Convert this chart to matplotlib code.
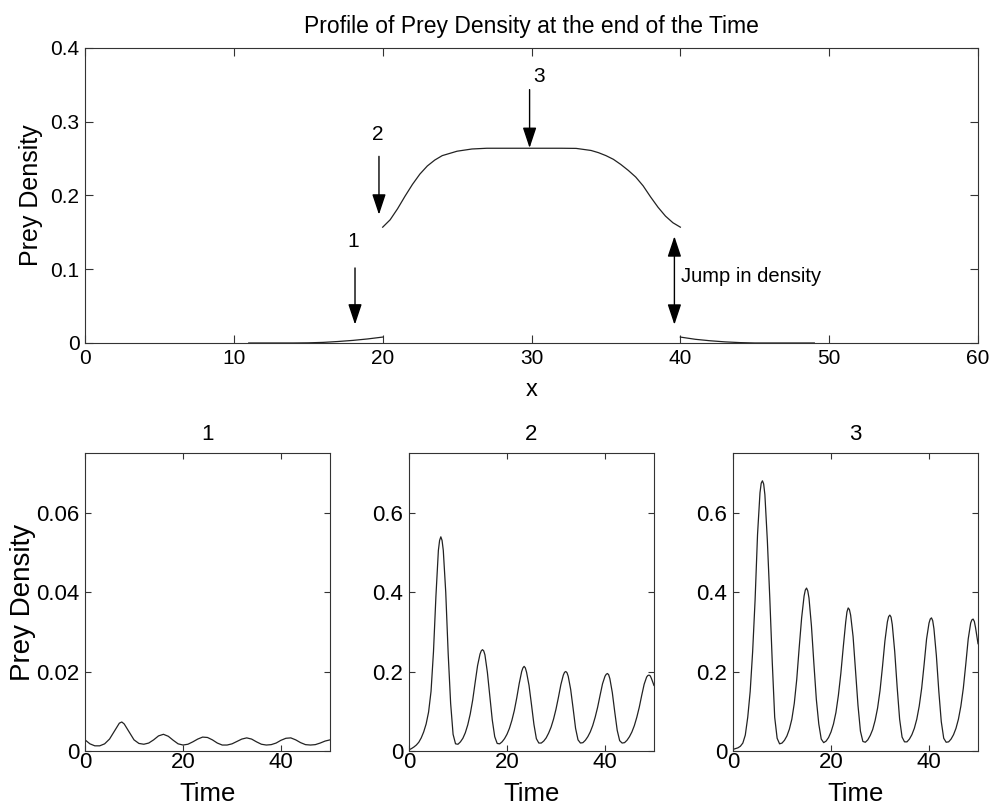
import numpy as np
import matplotlib
matplotlib.use("Agg")
import matplotlib.pyplot as plt

plt.rcParams["font.family"] = ["Liberation Sans", "DejaVu Sans"]

nan = float("nan")

# profile of prey density along x (end of simulation); nan = break at the jumps
x_prof = [11, 12, 13, 14, 15, 16, 17, 18, 19, 20, nan,
          20, 20.5, 21, 21.5, 22, 22.5, 23, 23.5, 24, 25, 26, 27, 28, 29, 30,
          31, 32, 33, 34, 34.5, 35, 35.5, 36, 36.5, 37, 37.5, 38, 38.5, 39, 39.5, 40, nan,
          40, 41, 42, 43, 44, 45, 46, 47, 48, 49]
y_prof = [0.0, 0.0, 0.0, 0.0, 0.0002, 0.0008, 0.002, 0.0035, 0.0055, 0.008, nan,
          0.157, 0.167, 0.182, 0.199, 0.215, 0.229, 0.240, 0.248, 0.254, 0.260, 0.263, 0.264, 0.264, 0.264, 0.264,
          0.264, 0.264, 0.2638, 0.261, 0.258, 0.254, 0.249, 0.242, 0.234, 0.225, 0.213, 0.198, 0.184, 0.172, 0.163, 0.157, nan,
          0.008, 0.005, 0.003, 0.0015, 0.0005, 0.0, 0.0, 0.0, 0.0, 0.0]

# time series at point 1
t1 = [0, 1, 2, 3, 4, 5, 6, 7, 7.5, 8, 9, 10, 11, 12, 13, 14, 15, 16, 17, 18, 19, 20,
      21, 22, 23, 24, 25, 26, 27, 28, 29, 30, 31, 32, 33, 34, 35, 36, 37, 38, 39, 40,
      41, 42, 43, 44, 45, 46, 47, 48, 49, 50]
p1 = [0.0028, 0.0018, 0.0013, 0.0013, 0.0018, 0.0030, 0.0050, 0.0070, 0.0073, 0.0068,
      0.0048, 0.0028, 0.0019, 0.0017, 0.0020, 0.0028, 0.0038, 0.0042, 0.0037, 0.0027,
      0.0018, 0.0015, 0.0017, 0.0023, 0.0030, 0.0035, 0.0034, 0.0028, 0.0020, 0.0015,
      0.0015, 0.0018, 0.0024, 0.0030, 0.0033, 0.0030, 0.0023, 0.0017, 0.0015, 0.0016,
      0.0020, 0.0027, 0.0032, 0.0033, 0.0028, 0.0021, 0.0016, 0.0015, 0.0016, 0.0020,
      0.0025, 0.0028]

# time series at point 2
t2 = [0, 0.5, 1, 1.5, 2, 2.5, 3, 3.5, 4, 4.5, 5, 5.5, 6, 6.25, 6.5, 6.75, 7, 7.5, 8, 8.5,
      9, 9.5, 10, 10.5, 11, 11.5, 12, 12.5, 13, 13.5, 14, 14.5, 14.75, 15, 15.25, 15.5,
      16, 16.5, 17, 17.5, 18, 18.5, 19, 19.5, 20, 20.5, 21, 21.5, 22, 22.5, 23, 23.25,
      23.5, 23.75, 24, 24.5, 25, 25.5, 26, 26.5, 27, 27.5, 28, 28.5, 29, 29.5, 30, 30.5,
      31, 31.5, 31.75, 32, 32.25, 32.5, 33, 33.5, 34, 34.5, 35, 35.5, 36, 36.5, 37, 37.5,
      38, 38.5, 39, 39.5, 40, 40.25, 40.5, 40.75, 41, 41.5, 42, 42.5, 43, 43.5, 44, 44.5,
      45, 45.5, 46, 46.5, 47, 47.5, 48, 48.5, 48.75, 49, 49.25, 49.5, 50]
p2 = [0.003, 0.006, 0.010, 0.015, 0.022, 0.033, 0.048, 0.068, 0.098, 0.150, 0.250, 0.390,
      0.505, 0.530, 0.539, 0.530, 0.505, 0.400, 0.245, 0.120,
      0.042, 0.018, 0.017, 0.023, 0.032, 0.046, 0.066, 0.093, 0.128, 0.172, 0.215, 0.244,
      0.252, 0.255, 0.252, 0.242,
      0.198, 0.138, 0.078, 0.036, 0.019, 0.018, 0.023, 0.031, 0.042, 0.057, 0.077, 0.102,
      0.134, 0.170, 0.200, 0.209,
      0.213, 0.209, 0.198, 0.165, 0.117, 0.067, 0.031, 0.020, 0.020, 0.025, 0.033, 0.045,
      0.060, 0.080, 0.105, 0.135,
      0.167, 0.191, 0.198, 0.200, 0.197, 0.188, 0.155, 0.107, 0.057, 0.028, 0.020, 0.021,
      0.027, 0.036, 0.048, 0.064,
      0.085, 0.110, 0.140, 0.169, 0.188, 0.193, 0.195, 0.192, 0.182, 0.147, 0.098, 0.052,
      0.026, 0.020, 0.021, 0.027,
      0.036, 0.048, 0.064, 0.085, 0.110, 0.140, 0.168, 0.186, 0.190, 0.191, 0.189, 0.182,
      0.165]

# time series at point 3
t3 = [0, 0.5, 1, 1.5, 2, 2.5, 3, 3.5, 4, 4.5, 5, 5.5, 5.75, 6, 6.25, 6.5, 7, 7.5, 8, 8.5,
      9, 9.5, 10, 10.5, 11, 11.5, 12, 12.5, 13, 13.5, 14, 14.5, 14.75, 15, 15.25, 15.5,
      16, 16.5, 17, 17.5, 18, 18.5, 19, 19.5, 20, 20.5, 21, 21.5, 22, 22.5, 23, 23.25,
      23.5, 23.75, 24, 24.5, 25, 25.5, 26, 26.5, 27, 27.5, 28, 28.5, 29, 29.5, 30, 30.5,
      31, 31.5, 31.75, 32, 32.25, 32.5, 33, 33.5, 34, 34.5, 35, 35.5, 36, 36.5, 37, 37.5,
      38, 38.5, 39, 39.5, 40, 40.25, 40.5, 40.75, 41, 41.5, 42, 42.5, 43, 43.5, 44, 44.5,
      45, 45.5, 46, 46.5, 47, 47.5, 48, 48.5, 48.75, 49, 49.25, 49.5, 50]
p3 = [0.004, 0.006, 0.008, 0.012, 0.020, 0.040, 0.085, 0.150, 0.250, 0.380, 0.545, 0.650,
      0.674, 0.680, 0.672, 0.645, 0.530, 0.385, 0.225, 0.085,
      0.032, 0.018, 0.020, 0.027, 0.038, 0.055, 0.080, 0.120, 0.180, 0.260, 0.335, 0.390,
      0.405, 0.410, 0.403, 0.385,
      0.315, 0.220, 0.130, 0.068, 0.030, 0.021, 0.025, 0.034, 0.048, 0.068, 0.097, 0.140,
      0.195, 0.262, 0.325, 0.350,
      0.360, 0.356, 0.342, 0.288, 0.202, 0.115, 0.050, 0.024, 0.022, 0.028, 0.039, 0.054,
      0.077, 0.108, 0.152, 0.212,
      0.277, 0.325, 0.338, 0.342, 0.337, 0.318, 0.250, 0.160, 0.080, 0.035, 0.023, 0.023,
      0.030, 0.041, 0.057, 0.080,
      0.113, 0.158, 0.218, 0.282, 0.322, 0.332, 0.335, 0.328, 0.308, 0.240, 0.150, 0.074,
      0.032, 0.022, 0.023, 0.030,
      0.041, 0.057, 0.080, 0.113, 0.158, 0.218, 0.282, 0.322, 0.330, 0.332, 0.326, 0.310,
      0.270]

line_col = "#222222"
spine_col = "#333333"


def style_axes(ax, tick_len, fs, xpad):
    for s in ax.spines.values():
        s.set_color(spine_col)
        s.set_linewidth(0.8)
    ax.tick_params(direction="in", top=True, right=True, length=tick_len,
                   width=0.8, color=spine_col, labelsize=fs)
    ax.tick_params(axis="x", pad=xpad)
    ax.tick_params(axis="y", pad=4)


fig = plt.figure(figsize=(9.91, 8.07), dpi=100)

# top profile
ax = fig.add_axes([0.0858, 0.575, 0.9011, 0.3656])
ax.plot(x_prof, y_prof, color=line_col, lw=0.9)
ax.set_xlim(0, 60)
ax.set_ylim(0, 0.4)
ax.set_xticks([0, 10, 20, 30, 40, 50, 60])
ax.set_yticks([0, 0.1, 0.2, 0.3, 0.4])
ax.set_yticklabels(["0", "0.1", "0.2", "0.3", "0.4"])
style_axes(ax, 6, 15, 4)
ax.set_title("Profile of Prey Density at the end of the Time", fontsize=16.5, pad=11)
ax.set_xlabel("x", fontsize=17, labelpad=8)
ax.set_ylabel("Prey Density", fontsize=18, labelpad=5)

arr = dict(arrowstyle="-|>,head_length=0.9,head_width=0.3", color="black", lw=1,
           shrinkA=0, shrinkB=0, mutation_scale=14)
ax.annotate("", xy=(18.14, 0.025), xytext=(18.14, 0.1017), arrowprops=arr)
ax.text(18.0, 0.138, "1", fontsize=15, ha="center", va="center")
ax.annotate("", xy=(19.75, 0.174), xytext=(19.75, 0.253), arrowprops=arr)
ax.text(19.69, 0.2824, "2", fontsize=15, ha="center", va="center")
ax.annotate("", xy=(29.87, 0.2644), xytext=(29.87, 0.3435), arrowprops=arr)
ax.text(30.5, 0.3615, "3", fontsize=15, ha="center", va="center")
arr2 = dict(arr, arrowstyle="<|-|>,head_length=0.9,head_width=0.3")
ax.annotate("", xy=(39.6, 0.0248), xytext=(39.6, 0.1446), arrowprops=arr2)
ax.text(40.05, 0.09, "Jump in density", fontsize=14.5, ha="left", va="center")

# bottom time series
lefts = [0.0858, 0.4127, 0.7397]
series = [(t1, p1, 0.075, [0, 0.02, 0.04, 0.06], ["0", "0.02", "0.04", "0.06"], "1"),
          (t2, p2, 0.75, [0, 0.2, 0.4, 0.6], ["0", "0.2", "0.4", "0.6"], "2"),
          (t3, p3, 0.75, [0, 0.2, 0.4, 0.6], ["0", "0.2", "0.4", "0.6"], "3")]
for i, (tt, pp, ymax, yt, ytl, name) in enumerate(series):
    a = fig.add_axes([lefts[i], 0.0694, 0.2472, 0.3693])
    a.plot(tt, pp, color=line_col, lw=0.9)
    a.set_xlim(0, 50)
    a.set_ylim(0, ymax)
    a.set_xticks([0, 20, 40])
    a.set_yticks(yt)
    a.set_yticklabels(ytl)
    style_axes(a, 4, 16, 1)
    a.set_title(name, fontsize=16, pad=9)
    a.set_xlabel("Time", fontsize=18.5, labelpad=6)
    if i == 0:
        a.set_ylabel("Prey Density", fontsize=20, labelpad=0)

fig.savefig("out.png", dpi=100)
